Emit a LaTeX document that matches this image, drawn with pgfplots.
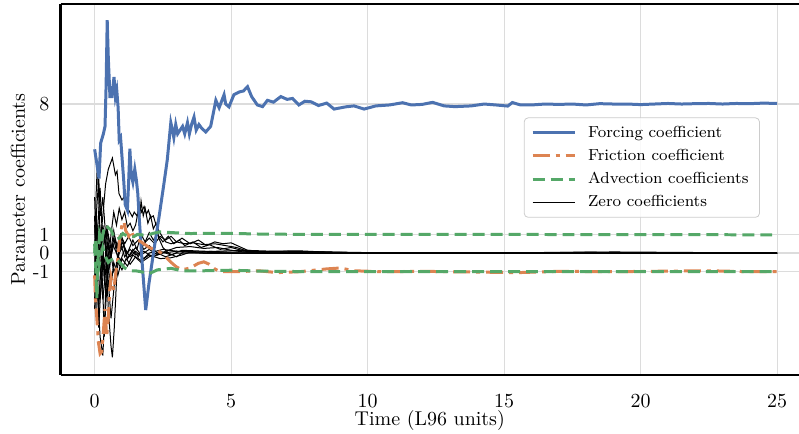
\documentclass[border=0pt]{standalone}
\usepackage{pgfplots}
\pgfplotsset{compat=1.18}
\definecolor{sbblue}{HTML}{4C72B0}
\definecolor{sborange}{HTML}{DD8452}
\definecolor{sbgreen}{HTML}{55A868}
\definecolor{gridgray}{HTML}{DCDCDC}
\begin{document}
\begin{tikzpicture}
\begin{axis}[
  scale only axis, width=369.7pt, height=185.6pt,
  xmin=-1.25, xmax=25.8, ymin=-6.53, ymax=13.37,
  axis x line=box, axis y line=left,
  axis line style={-, black, line width=1.1pt},
  xtick={0,5,10,15,20,25},
  ytick={-1,0,1,8}, yticklabels={{-1},0,1,8},
  major tick length=0pt,
  grid=major, grid style={gridgray, line width=0.6pt},
  xticklabel style={yshift=-6.5pt},
  yticklabel style={xshift=-2pt},
  xlabel={Time (L96 units)}, ylabel={Parameter coefficients},
  xlabel style={yshift=5.5pt},
  ylabel style={yshift=-3pt},
  legend image code/.code={\draw[#1] (0pt,0pt) -- (21pt,0pt); \path (25pt,0pt);},
  legend style={at={(0.947,0.694)}, anchor=north east, draw=gray!40, rounded corners=2pt,
    fill=white, fill opacity=0.85, text opacity=1, font=\footnotesize, row sep=0.4pt, inner xsep=3.5pt, inner ysep=2pt},
  legend cell align=left,
  clip=true,
]
% Zero coefficients (thin black)
\addplot[black, line width=0.5pt, forget plot] coordinates {(0,0.5)(0.1,-1.5)(0.2,0.5)(0.3,2.0)(0.4,3.7)(0.5,4.5)(0.65,5.1)(0.76,4.2)(0.82,4.4)(0.89,3.2)(1.0,2.85)(1.07,3.0)(1.14,2.5)(1.25,2.3)(1.38,1.95)(1.45,2.2)(1.55,2.0)(1.65,2.6)(1.72,2.2)(1.81,2.5)(1.9,2.1)(1.97,2.3)(2.05,1.9)(2.15,2.0)(2.25,1.5)(2.35,1.2)(2.48,0.88)(2.6,0.6)(2.8,0.5)(3.0,0.6)(3.3,0.5)(3.6,0.55)(4.0,0.45)(4.4,0.5)(4.8,0.4)(5.2,0.3)(5.6,0.1)(6.0,0.05)(7,0.03)(8,0.0)(10,0.0)(15,0.0)(25,0.0)};
\addplot[black, line width=0.5pt, forget plot] coordinates {(0,-1.0)(0.05,3.0)(0.1,4.8)(0.15,3.0)(0.2,1.0)(0.3,-2.0)(0.35,-4.5)(0.4,-3.0)(0.5,-0.5)(0.6,1.0)(0.7,2.2)(0.8,1.5)(0.9,2.4)(1.0,1.8)(1.1,2.2)(1.2,1.4)(1.3,1.6)(1.4,1.2)(1.5,1.5)(1.6,2.3)(1.65,1.9)(1.7,2.8)(1.78,2.0)(1.85,2.4)(1.95,1.6)(2.05,2.0)(2.15,1.3)(2.25,1.6)(2.35,0.8)(2.5,0.3)(2.7,0.0)(3.0,-0.2)(3.3,0.1)(4,0.05)(5,0.0)(25,0.0)};
\addplot[black, line width=0.5pt, forget plot] coordinates {(0,1.5)(0.08,-1.0)(0.15,-3.0)(0.22,-1.0)(0.3,1.5)(0.4,0.5)(0.5,-3.0)(0.6,-5.0)(0.65,-5.6)(0.72,-4.0)(0.8,-1.5)(0.9,0.3)(1.0,0.8)(1.1,0.3)(1.2,-0.3)(1.35,0.0)(1.5,0.3)(1.7,-0.1)(2.0,0.2)(2.3,-0.1)(2.6,0.1)(3.0,0.3)(3.5,0.35)(4.0,0.25)(4.5,0.3)(5.0,0.15)(5.5,0.05)(6,0.0)(25,0.0)};
\addplot[black, line width=0.5pt, forget plot] coordinates {(0,-2.5)(0.05,-0.5)(0.1,-2.0)(0.2,-4.5)(0.3,-5.5)(0.38,-3.0)(0.45,0.0)(0.55,-0.8)(0.65,0.5)(0.8,0.0)(0.95,-0.4)(1.1,0.2)(1.3,-0.2)(1.5,0.1)(1.8,-0.3)(2.0,0.0)(2.5,0.2)(3,0.1)(4,0.0)(25,0.0)};
\addplot[black, line width=0.5pt, forget plot] coordinates {(0,3.0)(0.05,0.5)(0.1,-1.0)(0.18,1.5)(0.25,0.5)(0.35,-0.5)(0.5,0.5)(0.6,-0.2)(0.75,0.8)(0.9,0.0)(1.05,0.4)(1.2,-0.3)(1.4,0.2)(1.6,-0.2)(1.8,0.5)(2.0,0.8)(2.2,0.5)(2.4,0.9)(2.6,0.7)(2.8,0.9)(3.0,0.6)(3.2,0.8)(3.5,0.5)(3.8,0.7)(4.1,0.4)(4.4,0.6)(4.7,0.5)(5.0,0.55)(5.3,0.35)(5.6,0.15)(6.2,0.05)(8,0.05)(10,0.02)(14,0.0)(18,0.05)(20,0.02)(25,0.0)};
\addplot[black, line width=0.5pt, forget plot] coordinates {(0,-1.5)(0.07,2.0)(0.12,-0.5)(0.2,-2.5)(0.28,-1.0)(0.35,1.0)(0.45,-0.5)(0.55,0.3)(0.7,-1.0)(0.85,-0.5)(1.0,-0.9)(1.15,-0.3)(1.3,-0.6)(1.5,-0.2)(1.7,-0.4)(2.0,-0.1)(2.4,-0.3)(2.8,-0.25)(3.2,-0.1)(3.5,0.05)(4.5,0.1)(5.5,0.15)(6.5,0.1)(7.5,0.12)(8.5,0.05)(10,0.0)(17,0.03)(19,0.06)(25,0.0)};
\addplot[black, line width=0.5pt, forget plot] coordinates {(0,0)(0.08,2.5)(0.15,4.0)(0.22,2.0)(0.3,3.0)(0.4,1.0)(0.5,-1.5)(0.6,-3.5)(0.7,-2.0)(0.8,-0.5)(0.95,0.5)(1.1,-0.2)(1.3,0.2)(1.5,-0.1)(1.8,0.1)(2.1,-0.2)(2.5,0.0)(3.0,0.1)(4,0.0)(25,0.0)};
\addplot[black, line width=0.5pt, forget plot] coordinates {(0,-3.0)(0.06,0.0)(0.12,1.5)(0.2,-0.5)(0.3,-2.5)(0.4,-1.0)(0.5,1.0)(0.6,0.2)(0.7,1.2)(0.8,0.3)(0.95,1.0)(1.1,0.5)(1.25,0.9)(1.4,0.4)(1.6,0.7)(1.8,0.2)(2.0,0.4)(2.3,0.0)(2.6,-0.2)(3.0,0.0)(4,0.0)(25,0.0)};
\addplot[black, line width=0.5pt, forget plot] coordinates {(0,2.0)(0.05,-2.0)(0.1,1.0)(0.2,3.5)(0.28,1.0)(0.35,-1.5)(0.45,1.5)(0.55,-0.5)(0.7,0.8)(0.85,-0.3)(1.0,0.6)(1.2,0.0)(1.4,0.7)(1.55,0.2)(1.7,1.0)(1.85,0.6)(2.0,1.1)(2.15,0.7)(2.3,1.0)(2.5,0.6)(2.7,0.9)(2.9,0.5)(3.1,0.7)(3.3,0.4)(3.6,0.6)(3.9,0.3)(4.2,0.45)(4.6,0.2)(5.0,0.3)(5.5,0.1)(6,0.05)(8,0.08)(9,0.03)(25,0.0)};
\addplot[black, line width=0.5pt, forget plot] coordinates {(0,-0.5)(0.05,-3.0)(0.1,-1.0)(0.15,-4.0)(0.22,-2.0)(0.3,0.0)(0.4,-2.0)(0.5,-0.8)(0.6,-1.8)(0.7,-0.5)(0.85,-1.2)(1.0,-0.3)(1.2,-0.7)(1.4,-0.1)(1.7,-0.5)(2.0,-0.2)(2.4,0.1)(2.8,-0.1)(3.2,0.15)(4,0.1)(5,0.05)(7,0.1)(9,0.05)(11,0.0)(25,0.0)};
% Forcing
\addplot[sbblue, line width=1.5pt] coordinates {(0,5.57)(0.08,4.8)(0.16,4.0)(0.22,5.9)(0.32,6.4)(0.38,6.8)(0.42,9.0)(0.46,12.5)(0.5,10.5)(0.56,8.4)(0.63,8.4)(0.71,9.45)(0.76,8.4)(0.81,8.75)(0.86,7.8)(0.9,6.07)(0.95,6.2)(1.01,5.0)(1.06,4.0)(1.12,2.6)(1.2,2.3)(1.25,4.0)(1.29,5.6)(1.34,4.2)(1.4,3.8)(1.47,4.5)(1.53,3.9)(1.58,3.2)(1.63,1.95)(1.75,-0.73)(1.87,-3.06)(1.99,-1.63)(2.17,0.16)(2.36,1.95)(2.54,3.75)(2.66,5.0)(2.79,7.0)(2.85,6.6)(2.9,6.2)(2.97,6.9)(3.04,6.4)(3.13,6.6)(3.22,6.8)(3.3,6.4)(3.4,7.0)(3.47,6.4)(3.55,6.9)(3.64,7.3)(3.72,6.6)(3.82,6.9)(3.92,6.7)(4.07,6.5)(4.25,6.8)(4.44,8.2)(4.56,7.8)(4.74,8.5)(4.8,8.0)(4.92,7.85)(5.1,8.5)(5.3,8.65)(5.45,8.7)(5.6,8.93)(5.75,8.4)(5.96,7.95)(6.15,7.86)(6.33,8.2)(6.55,8.1)(6.82,8.4)(7.05,8.25)(7.25,8.3)(7.48,7.95)(7.7,8.15)(7.93,8.12)(8.2,7.92)(8.5,8.05)(8.77,7.73)(9.2,7.85)(9.5,7.9)(9.87,7.73)(10.3,7.9)(10.8,7.95)(11.28,8.07)(11.6,7.95)(12.0,7.98)(12.38,8.09)(12.8,7.9)(13.2,7.86)(13.8,7.9)(14.27,8.0)(14.7,7.95)(15.13,7.89)(15.3,8.08)(15.6,7.95)(16.0,7.95)(16.5,8.0)(17.0,7.98)(17.5,8.0)(18,7.95)(18.5,8.02)(19,8.0)(19.5,8.0)(20,7.97)(20.5,8.0)(21,8.03)(21.5,8.0)(22,8.02)(22.5,8.03)(23,8.0)(23.5,8.03)(24,8.02)(24.5,8.05)(25,8.03)};
\addlegendentry{Forcing coefficient}
% Friction
\addplot[sborange, line width=1.5pt, dash pattern=on 8.5pt off 3pt on 2pt off 3pt] coordinates {(0,-1.2)(0.03,-2.5)(0.08,-3.5)(0.14,-4.8)(0.2,-5.4)(0.26,-5.3)(0.32,-4.2)(0.38,-3.0)(0.44,-4.5)(0.5,-3.5)(0.55,-2.0)(0.6,-1.3)(0.7,-2.0)(0.78,-1.0)(0.85,-0.3)(0.92,0.8)(1.0,1.5)(1.07,1.7)(1.14,1.2)(1.25,0.9)(1.35,1.2)(1.45,0.8)(1.6,0.7)(1.8,0.5)(2.0,0.3)(2.2,0.16)(2.4,0.05)(2.6,-0.2)(2.8,-0.5)(3.0,-0.75)(3.2,-0.9)(3.5,-0.8)(3.8,-0.55)(4.0,-0.47)(4.2,-0.6)(4.4,-0.85)(4.6,-1.0)(5.2,-1.0)(6.0,-0.95)(6.7,-1.05)(7.5,-1.0)(8.5,-0.85)(9.0,-0.8)(9.5,-0.95)(10.5,-1.0)(12,-0.98)(14,-1.02)(15.5,-1.05)(17,-0.98)(19,-1.0)(21,-0.97)(22.5,-0.95)(24,-1.0)(25,-1.0)};
\addlegendentry{Friction coefficient}
% Advection
\addplot[sbgreen, line width=1.5pt, dash pattern=on 6pt off 3pt] coordinates {(0,0.5)(0.04,-0.8)(0.08,-2.4)(0.12,-0.5)(0.18,1.0)(0.25,0.6)(0.33,1.2)(0.42,1.5)(0.5,1.35)(0.6,1.25)(0.7,0.85)(0.8,0.75)(0.9,0.8)(1.03,1.05)(1.2,0.9)(1.43,0.88)(1.56,1.0)(1.9,0.95)(2.17,1.07)(2.42,1.14)(2.8,1.1)(3.5,1.05)(4.86,1.06)(6.08,1.02)(8,1.0)(10,1.0)(15,1.0)(20,0.99)(25,0.98)};
\addlegendentry{Advection coefficients}
\addplot[sbgreen, line width=1.5pt, dash pattern=on 6pt off 3pt, forget plot] coordinates {(0,0.0)(0.04,0.8)(0.08,0.2)(0.12,-0.5)(0.16,-0.7)(0.22,-0.2)(0.3,0.3)(0.4,-0.2)(0.5,-0.5)(0.59,-0.38)(0.7,-0.3)(0.8,-0.3)(0.95,-0.55)(1.1,-0.8)(1.3,-0.95)(1.5,-0.95)(1.69,-1.0)(2.0,-1.1)(2.3,-0.9)(2.8,-0.82)(3.2,-0.95)(4,-0.95)(5,-0.92)(6.08,-0.97)(8,-1.0)(10,-1.0)(15,-1.0)(20,-1.0)(25,-1.0)};
\addlegendimage{black, line width=0.5pt}
\addlegendentry{Zero coefficients}
\end{axis}
\pgfresetboundingbox
\path ([xshift=-30.3pt, yshift=-29.2pt]current axis.south west) rectangle ([yshift=2pt]current axis.north east);
\end{tikzpicture}
\end{document}
